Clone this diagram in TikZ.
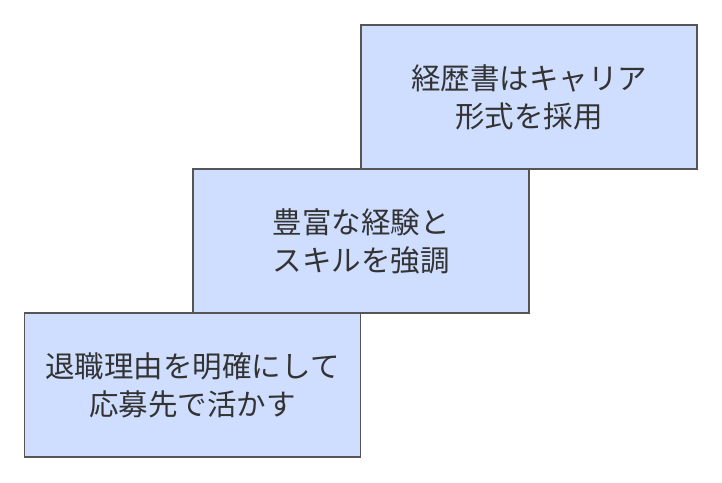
\documentclass[tikz,border=0pt]{standalone}
\usepackage{fontspec}
\newfontfamily\cjk{Noto Sans CJK JP}
\definecolor{boxfill}{HTML}{CFDEFF}
\definecolor{boxline}{HTML}{555555}
\definecolor{txt}{HTML}{333333}
\tikzset{stepbox/.style={draw=boxline, fill=boxfill, line width=1.3pt,
  minimum width=336pt, minimum height=144pt, inner sep=0pt,
  align=center, text=txt, font=\cjk\fontsize{29.5}{38}\selectfont}}
\begin{document}
\begin{tikzpicture}[x=1pt,y=1pt]
\useasboundingbox (0,0) rectangle (722,482);
% steps, bottom left to top right
\node [stepbox] (s1) at (192.5,97) {退職理由を明確にして\\応募先で活かす};
\node [stepbox] (s2) at (361,241) {豊富な経験と\\スキルを強調};
\node [stepbox] (s3) at (529,385) {経歴書はキャリア\\形式を採用};
\end{tikzpicture}
\end{document}
